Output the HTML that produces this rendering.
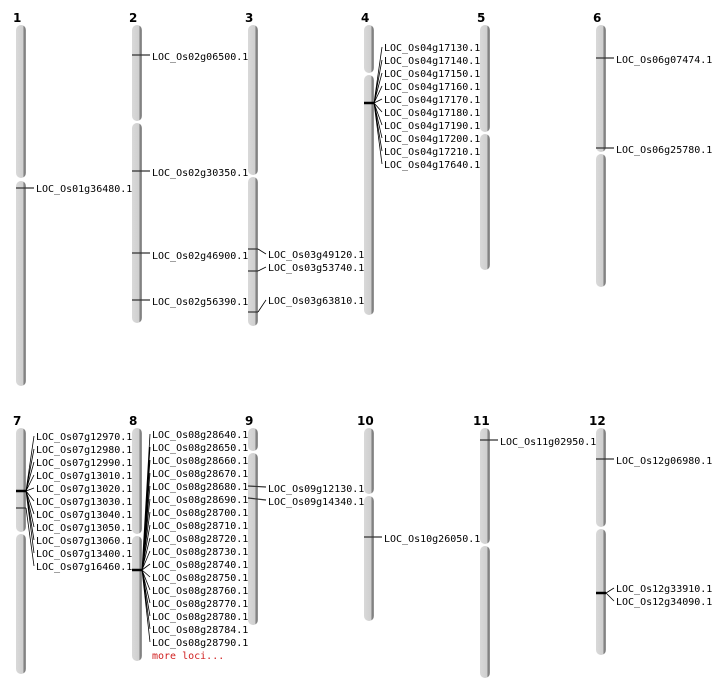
<!DOCTYPE html>
<html><head><meta charset="utf-8"><style>
body{margin:0;background:#fff}
svg{display:block}
text{font-family:"DejaVu Sans Mono","Liberation Mono",monospace;font-size:10px;fill:#000}
.n{font-family:"DejaVu Sans","Liberation Sans",sans-serif;font-weight:bold;font-size:12px}
.c{fill:url(#g)}
.m{stroke:#333;stroke-width:1.2}
.t{stroke:#000;stroke-width:2.5}
.l{stroke:#000;stroke-width:0.8;fill:none}
</style></head><body>
<svg width="712" height="700" viewBox="0 0 712 700" xmlns="http://www.w3.org/2000/svg">
<defs><linearGradient id="g" x1="0" x2="1" y1="0" y2="0">
<stop offset="0" stop-color="#d9d9d9"/><stop offset="0.7" stop-color="#cfcfcf"/><stop offset="0.8" stop-color="#7a7a7a"/><stop offset="1" stop-color="#9a9a9a"/></linearGradient></defs>

<!-- chromosome numbers -->
<text class="n" x="13" y="22">1</text><text class="n" x="129" y="22">2</text><text class="n" x="245" y="22">3</text>
<text class="n" x="361" y="22">4</text><text class="n" x="477" y="22">5</text><text class="n" x="593" y="22">6</text>
<text class="n" x="13" y="425">7</text><text class="n" x="129" y="425">8</text><text class="n" x="245" y="425">9</text>
<text class="n" x="357" y="425">10</text><text class="n" x="473" y="425">11</text><text class="n" x="589" y="425">12</text>

<!-- chromosomes -->
<rect class="c" x="16" y="25" width="10" height="153" rx="5"/><rect class="c" x="16" y="181" width="10" height="205" rx="5"/>
<rect class="c" x="132" y="25" width="10" height="96" rx="5"/><rect class="c" x="132" y="123" width="10" height="200" rx="5"/>
<rect class="c" x="248" y="25" width="10" height="150" rx="5"/><rect class="c" x="248" y="177" width="10" height="149" rx="5"/>
<rect class="c" x="364" y="25" width="10" height="48" rx="5"/><rect class="c" x="364" y="75" width="10" height="240" rx="5"/>
<rect class="c" x="480" y="25" width="10" height="107" rx="5"/><rect class="c" x="480" y="134" width="10" height="136" rx="5"/>
<rect class="c" x="596" y="25" width="10" height="127" rx="5"/><rect class="c" x="596" y="154" width="10" height="133" rx="5"/>

<rect class="c" x="16" y="428" width="10" height="104" rx="5"/><rect class="c" x="16" y="534" width="10" height="140" rx="5"/>
<rect class="c" x="132" y="428" width="10" height="106" rx="5"/><rect class="c" x="132" y="536" width="10" height="125" rx="5"/>
<rect class="c" x="248" y="428" width="10" height="23" rx="5"/><rect class="c" x="248" y="453" width="10" height="172" rx="5"/>
<rect class="c" x="364" y="428" width="10" height="66" rx="5"/><rect class="c" x="364" y="496" width="10" height="125" rx="5"/>
<rect class="c" x="480" y="428" width="10" height="116" rx="5"/><rect class="c" x="480" y="546" width="10" height="132" rx="5"/>
<rect class="c" x="596" y="428" width="10" height="99" rx="5"/><rect class="c" x="596" y="529" width="10" height="126" rx="5"/>

<!-- chr1 -->
<line class="m" x1="16" y1="188" x2="34" y2="188"/>
<text x="36" y="192">LOC_Os01g36480.1</text>
<!-- chr2 -->
<line class="m" x1="132" y1="55" x2="150" y2="55"/><text x="152" y="60">LOC_Os02g06500.1</text>
<line class="m" x1="132" y1="171" x2="150" y2="171"/><text x="152" y="176">LOC_Os02g30350.1</text>
<line class="m" x1="132" y1="253" x2="150" y2="253"/><text x="152" y="259">LOC_Os02g46900.1</text>
<line class="m" x1="132" y1="300" x2="150" y2="300"/><text x="152" y="305">LOC_Os02g56390.1</text>
<!-- chr3 -->
<line class="m" x1="248" y1="249" x2="258" y2="249"/><polyline class="l" points="258,249 266,254"/>
<line class="m" x1="248" y1="271" x2="258" y2="271"/><polyline class="l" points="258,271 266,267"/>
<line class="m" x1="248" y1="312" x2="258" y2="312"/><polyline class="l" points="258,312 266,300"/>
<text x="268" y="258">LOC_Os03g49120.1</text><text x="268" y="271">LOC_Os03g53740.1</text><text x="268" y="304">LOC_Os03g63810.1</text>
<!-- chr4 -->
<line class="t" x1="364" y1="103" x2="374" y2="103"/>
<g class="l"><path d="M374 103L382 47M374 103L382 60M374 103L382 73M374 103L382 86M374 103L382 99M374 103L382 112M374 103L382 125M374 103L382 138M374 103L382 151M374 103L382 164"/></g>
<text x="384" y="51">LOC_Os04g17130.1</text><text x="384" y="64">LOC_Os04g17140.1</text><text x="384" y="77">LOC_Os04g17150.1</text>
<text x="384" y="90">LOC_Os04g17160.1</text><text x="384" y="103">LOC_Os04g17170.1</text><text x="384" y="116">LOC_Os04g17180.1</text>
<text x="384" y="129">LOC_Os04g17190.1</text><text x="384" y="142">LOC_Os04g17200.1</text><text x="384" y="155">LOC_Os04g17210.1</text>
<text x="384" y="168">LOC_Os04g17640.1</text>
<!-- chr6 -->
<line class="m" x1="596" y1="58" x2="614" y2="58"/><text x="616" y="63">LOC_Os06g07474.1</text>
<line class="m" x1="596" y1="148" x2="614" y2="148"/><text x="616" y="153">LOC_Os06g25780.1</text>

<!-- chr7 -->
<line class="t" x1="16" y1="491" x2="26" y2="491"/><line class="m" x1="16" y1="508" x2="26" y2="508"/>
<g class="l"><path d="M26 491L34 436M26 491L34 449M26 491L34 462M26 491L34 475M26 491L34 488M26 491L34 501M26 491L34 514M26 491L34 527M26 491L34 540M26 491L34 553M26 508L34 566"/></g>
<text x="36" y="440">LOC_Os07g12970.1</text><text x="36" y="453">LOC_Os07g12980.1</text><text x="36" y="466">LOC_Os07g12990.1</text>
<text x="36" y="479">LOC_Os07g13010.1</text><text x="36" y="492">LOC_Os07g13020.1</text><text x="36" y="505">LOC_Os07g13030.1</text>
<text x="36" y="518">LOC_Os07g13040.1</text><text x="36" y="531">LOC_Os07g13050.1</text><text x="36" y="544">LOC_Os07g13060.1</text>
<text x="36" y="557">LOC_Os07g13400.1</text><text x="36" y="570">LOC_Os07g16460.1</text>
<!-- chr8 -->
<line class="t" x1="132" y1="570" x2="142" y2="570"/>
<g class="l"><path d="M142 570L150 434M142 570L150 447M142 570L150 460M142 570L150 473M142 570L150 486M142 570L150 499M142 570L150 512M142 570L150 525M142 570L150 538M142 570L150 551M142 570L150 564M142 570L150 577M142 570L150 590M142 570L150 603M142 570L150 616M142 570L150 629M142 570L150 642"/></g>
<text x="152" y="438">LOC_Os08g28640.1</text><text x="152" y="451">LOC_Os08g28650.1</text><text x="152" y="464">LOC_Os08g28660.1</text>
<text x="152" y="477">LOC_Os08g28670.1</text><text x="152" y="490">LOC_Os08g28680.1</text><text x="152" y="503">LOC_Os08g28690.1</text>
<text x="152" y="516">LOC_Os08g28700.1</text><text x="152" y="529">LOC_Os08g28710.1</text><text x="152" y="542">LOC_Os08g28720.1</text>
<text x="152" y="555">LOC_Os08g28730.1</text><text x="152" y="568">LOC_Os08g28740.1</text><text x="152" y="581">LOC_Os08g28750.1</text>
<text x="152" y="594">LOC_Os08g28760.1</text><text x="152" y="607">LOC_Os08g28770.1</text><text x="152" y="620">LOC_Os08g28780.1</text>
<text x="152" y="633">LOC_Os08g28784.1</text><text x="152" y="646">LOC_Os08g28790.1</text>
<text x="152" y="659" style="fill:#d02020">more loci...</text>
<!-- chr9 -->
<line class="m" x1="248" y1="486" x2="266" y2="487"/><line class="m" x1="248" y1="498" x2="266" y2="500"/>
<text x="268" y="492">LOC_Os09g12130.1</text><text x="268" y="505">LOC_Os09g14340.1</text>
<!-- chr10 -->
<line class="m" x1="364" y1="537" x2="382" y2="537"/><text x="384" y="542">LOC_Os10g26050.1</text>
<!-- chr11 -->
<line class="m" x1="480" y1="440" x2="498" y2="440"/><text x="500" y="445">LOC_Os11g02950.1</text>
<!-- chr12 -->
<line class="m" x1="596" y1="459" x2="614" y2="459"/><text x="616" y="464">LOC_Os12g06980.1</text>
<line class="t" x1="596" y1="593" x2="606" y2="593"/>
<path class="l" d="M606 593L614 588M606 593L614 601"/>
<text x="616" y="592">LOC_Os12g33910.1</text><text x="616" y="605">LOC_Os12g34090.1</text>
</svg>
</body></html>
